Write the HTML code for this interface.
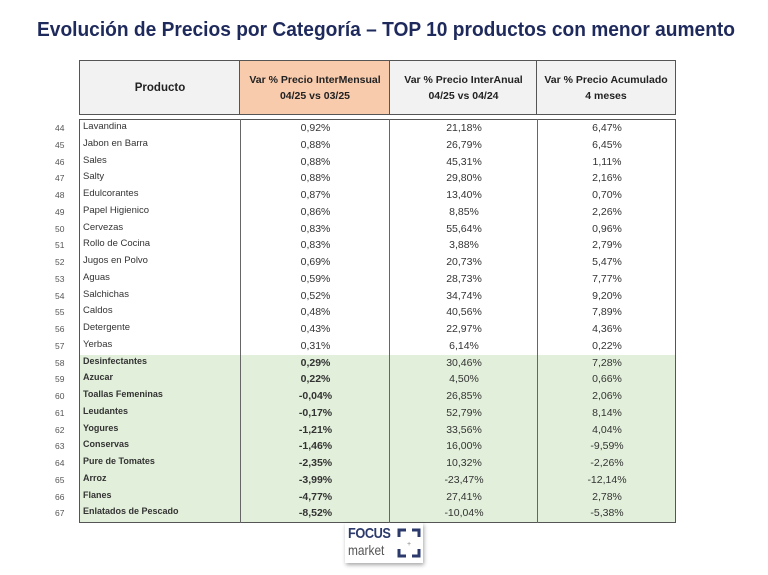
<!DOCTYPE html>
<html><head><meta charset="utf-8"><style>
body{margin:0;width:768px;height:575px;background:#fff;position:relative;overflow:hidden;font-family:"Liberation Sans",sans-serif;}
.a{position:absolute;}
.h{position:absolute;top:60px;height:55px;border:1.5px solid #555;box-sizing:border-box;display:flex;align-items:center;justify-content:center;text-align:center;font-weight:bold;font-size:10.5px;line-height:16px;color:#222;}
.r{position:absolute;left:0;width:768px;height:16.75px;font-size:10.5px;color:#333;}
.r span{position:absolute;top:2px;}
.n{left:55px;font-size:8.5px;color:#555;top:3px!important}
.p{left:83px;font-size:9.5px;top:1px!important}
.c{text-align:center;}
.b{font-weight:bold;}
</style></head><body>
<svg class="a" style="left:0;top:0" width="768" height="50"><text x="37" y="36" textLength="698" lengthAdjust="spacingAndGlyphs" font-family="Liberation Sans" font-weight="bold" font-size="20" fill="#1f2a5c">Evolución de Precios por Categoría – TOP 10 productos con menor aumento</text></svg>
<div class="h" style="left:79px;width:162px;background:#f2f2f2;font-size:11.5px">Producto</div>
<div class="h" style="left:239px;width:152px;background:#f8cbad">Var % Precio InterMensual<br>04/25 vs 03/25</div>
<div class="h" style="left:389px;width:149px;background:#f2f2f2">Var % Precio InterAnual<br>04/25 vs 04/24</div>
<div class="h" style="left:536px;width:140px;background:#f2f2f2">Var % Precio Acumulado<br>4 meses</div>
<div class="a" style="left:79px;top:355px;width:596px;height:167px;background:#e2efda"></div>
<div class="a" style="left:79px;top:119px;width:597px;height:404px;border:1.5px solid #555;box-sizing:border-box"></div>
<div class="a" style="left:240px;top:119px;width:1.2px;height:404px;background:#666"></div>
<div class="a" style="left:389px;top:119px;width:1.2px;height:404px;background:#666"></div>
<div class="a" style="left:537px;top:119px;width:1.2px;height:404px;background:#666"></div>
<div id="rows"></div>
<div class="a" style="left:345px;top:523px;width:78px;height:40px;background:#fff;box-shadow:1px 2px 4px rgba(0,0,0,.35)">
<div class="a" style="left:3px;top:2px;font-weight:bold;font-size:15px;color:#2b3a6b;letter-spacing:-0.5px;transform:scaleX(0.85);transform-origin:left">FOCUS</div>
<div class="a" style="left:3px;top:19px;font-size:14px;color:#555;transform:scaleX(0.85);transform-origin:left">market</div>
<svg class="a" style="left:52px;top:4px" width="24" height="32"><path d="M2 10V3h7M15 3h7v7M2 22v7h7M15 29h7v-7" fill="none" stroke="#2b3a6b" stroke-width="3"/><text x="10" y="19" font-size="7" fill="#888">+</text></svg>
</div>
<script>
var d=[["Lavandina","0,92%","21,18%","6,47%"],["Jabon en Barra","0,88%","26,79%","6,45%"],["Sales","0,88%","45,31%","1,11%"],["Salty","0,88%","29,80%","2,16%"],["Edulcorantes","0,87%","13,40%","0,70%"],["Papel Higienico","0,86%","8,85%","2,26%"],["Cervezas","0,83%","55,64%","0,96%"],["Rollo de Cocina","0,83%","3,88%","2,79%"],["Jugos en Polvo","0,69%","20,73%","5,47%"],["Aguas","0,59%","28,73%","7,77%"],["Salchichas","0,52%","34,74%","9,20%"],["Caldos","0,48%","40,56%","7,89%"],["Detergente","0,43%","22,97%","4,36%"],["Yerbas","0,31%","6,14%","0,22%"],["Desinfectantes","0,29%","30,46%","7,28%"],["Azucar","0,22%","4,50%","0,66%"],["Toallas Femeninas","-0,04%","26,85%","2,06%"],["Leudantes","-0,17%","52,79%","8,14%"],["Yogures","-1,21%","33,56%","4,04%"],["Conservas","-1,46%","16,00%","-9,59%"],["Pure de Tomates","-2,35%","10,32%","-2,26%"],["Arroz","-3,99%","-23,47%","-12,14%"],["Flanes","-4,77%","27,41%","2,78%"],["Enlatados de Pescado","-8,52%","-10,04%","-5,38%"]];
var h="";d.forEach(function(r,i){var b=i>=14?" b":"";var t=120+i*16.75;
h+='<div class="r" style="top:'+t+'px"><span class="n">'+(44+i)+'</span><span class="p'+(b?' b':'')+'" style="'+(b?'font-size:9px':'')+'">'+r[0]+'</span><span class="c'+b+'" style="left:241px;width:149px">'+r[1]+'</span><span class="c" style="left:390px;width:148px">'+r[2]+'</span><span class="c" style="left:538px;width:138px">'+r[3]+'</span></div>';});
document.getElementById("rows").innerHTML=h;
</script>
</body></html>
